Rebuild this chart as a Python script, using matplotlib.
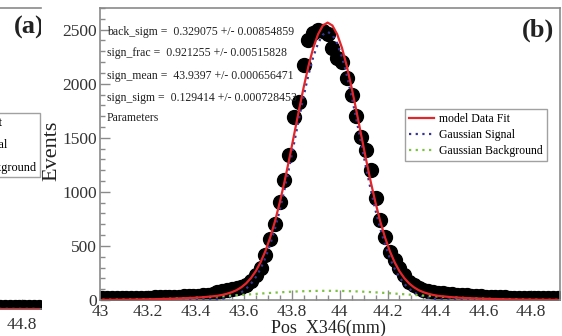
import numpy as np
import matplotlib
matplotlib.use('Agg')
import matplotlib.pyplot as plt
from matplotlib.ticker import MultipleLocator, FuncFormatter

plt.rcParams['font.family'] = ['Liberation Serif', 'DejaVu Serif']

# ---------------- data ----------------
# panel (b): histogram of Pos X346, bins of 0.02 mm starting at 43.00
bin_lo = 43.00
bin_w = 0.02
n_bins = 96
bin_x = np.round(bin_lo + bin_w / 2 + bin_w * np.arange(n_bins), 3)

counts = [15, 18, 16, 19, 17, 20, 18, 21, 20, 23, 22, 25, 24, 27, 29, 28, 32, 34, 33, 38, 40, 45, 48,
          60, 70, 80, 90, 102, 112, 122, 140, 172, 235, 300, 420, 560, 700, 905, 1110, 1345, 1695,
          1835, 2175, 2400, 2470, 2500, 2485,
          2455, 2330, 2240, 2205, 2050, 1900, 1700, 1510, 1390, 1205, 945, 740, 585, 445, 370, 296,
          232, 168, 140, 112, 95, 85, 75, 68, 62, 57,
          52, 48, 45, 42, 38, 36, 33, 31, 29, 27, 26, 24, 23, 22, 21, 20, 20, 19, 18, 18, 17, 17, 16]

fit_total = [1.5, 1.7, 2.0, 2.4, 2.8, 3.3, 3.9, 4.5, 5.2, 6.0, 6.9, 7.9, 9.0, 10.2, 11.5, 13.0, 14.6,
             16.3, 18.1, 20.1,
             22.7, 25.5, 30, 34, 39, 47, 58, 72, 91, 118, 154, 203, 266, 348, 450, 576, 725, 899,
             1093, 1305, 1527, 1751, 1966, 2163, 2331, 2457, 2538,
             2565,
             2538, 2457, 2331, 2163, 1966, 1751, 1527, 1305, 1093, 899, 725, 576, 450, 348, 266, 203,
             154, 118, 91, 72, 58, 47, 39, 34, 30, 25.5, 22.7,
             20.1, 18.1, 16.3, 14.6, 13.0, 11.5, 10.2, 9.0, 7.9, 6.9, 6.0, 5.2, 4.5, 3.9, 3.3, 2.8,
             2.4, 2.0, 1.7, 1.5, 1.2]

fit_signal = [0] * 20 + \
             [0.5, 1, 3, 4, 7, 12, 20, 31, 47, 71, 104, 150, 210, 289, 388, 511, 657, 828, 1020,
              1229, 1449, 1671, 1885, 2081, 2247, 2373, 2453,
              2480,
              2453, 2373, 2247, 2081, 1885, 1671, 1449, 1229, 1020, 828, 657, 511, 388, 289, 210,
              150, 104, 71, 47, 31, 20, 12, 7, 4, 3, 1, 0.5] + [0] * 21

fit_bkg = [1.5, 1.7, 2.1, 2.4, 2.9, 3.3, 3.9, 4.5, 5.2, 6.0, 6.9, 7.9, 9.0, 10.2, 11.5, 13.0, 14.6,
           16.3, 18.1, 20.1,
           22.2, 24.5, 26.9, 29.6, 32.2, 35.0, 37.9, 40.9, 43.9, 46.9, 50.0, 53.2, 56.2, 59.3, 62.4,
           65.3, 68.1, 70.8, 73.3, 75.6, 77.7, 79.6, 81.2, 82.5, 83.6, 84.4, 84.8,
           85.0,
           84.8, 84.4, 83.6, 82.5, 81.2, 79.6, 77.7, 75.6, 73.3, 70.8, 68.1, 65.3, 62.4, 59.3, 56.2,
           53.2, 50.0, 46.9, 43.9, 40.9, 37.9, 35.0, 32.2, 29.6, 26.9, 24.5, 22.2,
           20.1, 18.1, 16.3, 14.6, 13.0, 11.5, 10.2, 9.0, 7.9, 6.9, 6.0, 5.2, 4.5, 3.9, 3.3, 2.9,
           2.4, 2.1, 1.7, 1.5, 1.2]

param_lines = ['back_sigm =  0.329075 +/- 0.00854859',
               'sign_frac =  0.921255 +/- 0.00515828',
               'sign_mean =  43.9397 +/- 0.000656471',
               'sign_sigm =  0.129414 +/- 0.000728453',
               'Parameters']

# panel (a): only its right-hand edge is in the crop
a_x = [44.69, 44.71, 44.73, 44.75, 44.77, 44.79, 44.81, 44.83, 44.85, 44.87]
a_counts = [16, 15, 17, 15, 16, 14, 15, 16, 14, 15]
a_fit = [2, 2, 2, 2, 2, 2, 2, 2, 2, 2]

legend_labels = ['model Data Fit', 'Gaussian Signal', 'Gaussian Background']

red = '#e3262b'
blue = '#35358f'
green = '#7cc142'
gray = '#8a8a8a'
txt = '#222222'

W, H = 562, 336
fig = plt.figure(figsize=(W / 100, H / 100), dpi=100)


def style_axes(ax):
    for s in ax.spines.values():
        s.set_color(gray)
        s.set_linewidth(1.2)
    ax.tick_params(which='both', direction='in', color=gray, top=False, right=False,
                   labelcolor='#333333', labelsize=12.5)
    ax.tick_params(which='major', length=7, width=1.0)
    ax.tick_params(which='minor', length=3.5, width=1.0)
    ax.xaxis.set_major_locator(MultipleLocator(0.2))
    ax.xaxis.set_minor_locator(MultipleLocator(0.05))
    ax.xaxis.set_major_formatter(FuncFormatter(lambda v, p: '%g' % round(v, 2)))


def draw_hist(ax, x, y, tot, sig, bkg):
    ax.plot(x, y, 'o', color='black', ms=10, zorder=2)
    ax.plot(x, tot, color=red, lw=1.6, zorder=4, label=legend_labels[0])
    ax.plot(x, sig, color=blue, lw=1.6, ls=(0, (1, 2)), zorder=3, label=legend_labels[1])
    ax.plot(x, bkg, color=green, lw=1.6, ls=(0, (1, 2)), zorder=3, label=legend_labels[2])


# ---------------- panel (a), mostly off the left edge ----------------
axa = fig.add_axes([-419 / W, 27 / H, 460 / W, 301 / H])
draw_hist(axa, a_x, a_counts, a_fit, a_fit, a_fit)
axa.set_xlim(42.96, 44.88)
axa.set_ylim(0, 2700)
style_axes(axa)
axa.spines['right'].set_visible(False)
axa.set_yticks([])
axa.tick_params(axis='x', pad=6)
axa.text(0.975, 0.937, '(a)', transform=axa.transAxes, ha='center', va='center',
         fontsize=19, fontweight='bold', color=txt, clip_on=True)
axa.legend(loc='upper right', bbox_to_anchor=(0.998, 0.65), fontsize=8.8, frameon=True,
           fancybox=False, edgecolor=gray, borderaxespad=0, handlelength=2.1,
           labelspacing=0.85, borderpad=0.3)

# ---------------- panel (b) ----------------
ax = fig.add_axes([100 / W, 36 / H, 460 / W, 292 / H])
draw_hist(ax, bin_x, counts, fit_total, fit_signal, fit_bkg)
ax.set_xlim(43.0, 44.92)
ax.set_ylim(0, 2700)
style_axes(ax)
ax.yaxis.set_major_locator(MultipleLocator(500))
ax.yaxis.set_minor_locator(MultipleLocator(100))
ax.tick_params(axis='y', pad=2)
ax.tick_params(axis='x', pad=3)

ax.set_ylabel('Events', fontsize=16, color=txt)
ax.yaxis.set_label_coords(-0.085, 0.51)
ax.set_xlabel('Pos  X346(mm)', fontsize=13, color=txt, va='top')
ax.xaxis.set_label_coords(0.497, -0.068)

param_y = [0.918, 0.846, 0.767, 0.692, 0.623]
for s, yy in zip(param_lines, param_y):
    ax.text(0.015, yy, s, transform=ax.transAxes, ha='left', va='center',
            fontsize=8.5, color=txt)

ax.text(0.952, 0.925, '(b)', transform=ax.transAxes, ha='center', va='center',
        fontsize=19, fontweight='bold', color=txt)

leg = ax.legend(loc='upper right', bbox_to_anchor=(0.972, 0.654), fontsize=8.5, frameon=True,
                fancybox=False, edgecolor=gray, borderaxespad=0, handlelength=2.1,
                handletextpad=0.45, labelspacing=0.32, borderpad=0.35)
leg.get_frame().set_linewidth(1.0)

fig.savefig('out.png', dpi=100)
